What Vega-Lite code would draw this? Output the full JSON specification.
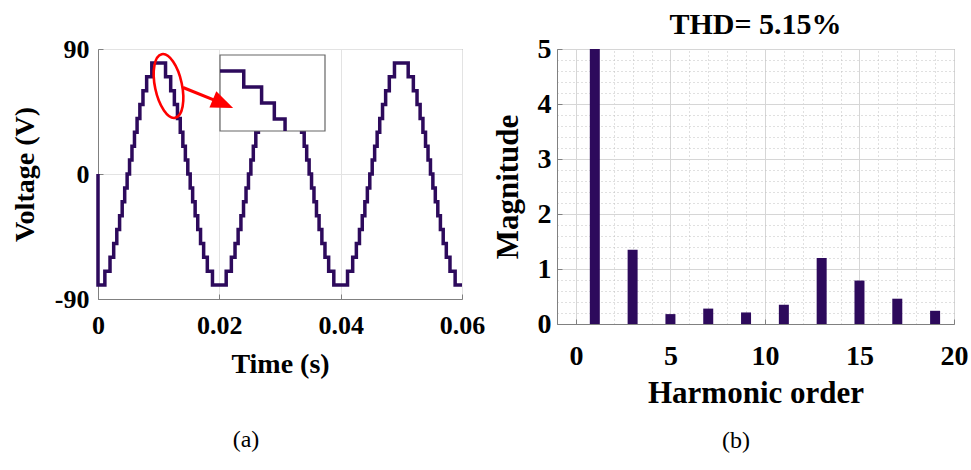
{
  "$schema": "https://vega.github.io/schema/vega-lite/v6.json",
  "background": "white",
  "padding": {"left": 10, "top": 9, "right": 0, "bottom": 0},
  "bounds": "flush",
  "spacing": 95,
  "config": {
    "view": {"stroke": "#808080", "strokeWidth": 1},
    "font": "Liberation Serif",
    "axis": {
      "labelFont": "Liberation Serif", "labelFontWeight": "bold", "labelColor": "black",
      "titleFont": "Liberation Serif", "titleFontWeight": "bold", "titleColor": "black",
      "domainColor": "#808080", "tickColor": "#808080", "labelFlush": false, "labelOverlap": false, "labelBound": false
    }
  },
  "hconcat": [
    {
      "width": 364, "height": 250,
      "resolve": {"scale": {"x": "independent", "y": "independent"}},
      "layer": [
        {
          "data": {"values": [
            {"t":0,"v":0},{"t":0,"v":-80},{"t":0.001131,"v":-70},{"t":0.001981,"v":-60},{"t":0.002587,"v":-50},{"t":0.003098,"v":-40},{"t":0.003559,"v":-30},{"t":0.003988,"v":-20},{"t":0.0044,"v":-10},{"t":0.004801,"v":0},{"t":0.005199,"v":10},{"t":0.0056,"v":20},{"t":0.006012,"v":30},{"t":0.006441,"v":40},{"t":0.006902,"v":50},{"t":0.007413,"v":60},{"t":0.008019,"v":70},{"t":0.008869,"v":80},
            {"t":0.011131,"v":70},{"t":0.011981,"v":60},{"t":0.012587,"v":50},{"t":0.013098,"v":40},{"t":0.013559,"v":30},{"t":0.013988,"v":20},{"t":0.0144,"v":10},{"t":0.014801,"v":0},{"t":0.015199,"v":-10},{"t":0.0156,"v":-20},{"t":0.016012,"v":-30},{"t":0.016441,"v":-40},{"t":0.016902,"v":-50},{"t":0.017413,"v":-60},{"t":0.018019,"v":-70},{"t":0.018869,"v":-80},
            {"t":0.021131,"v":-70},{"t":0.021981,"v":-60},{"t":0.022587,"v":-50},{"t":0.023098,"v":-40},{"t":0.023559,"v":-30},{"t":0.023988,"v":-20},{"t":0.0244,"v":-10},{"t":0.024801,"v":0},{"t":0.025199,"v":10},{"t":0.0256,"v":20},{"t":0.026012,"v":30},{"t":0.026441,"v":40},{"t":0.026902,"v":50},{"t":0.027413,"v":60},{"t":0.028019,"v":70},{"t":0.028869,"v":80},
            {"t":0.031131,"v":70},{"t":0.031981,"v":60},{"t":0.032587,"v":50},{"t":0.033098,"v":40},{"t":0.033559,"v":30},{"t":0.033988,"v":20},{"t":0.0344,"v":10},{"t":0.034801,"v":0},{"t":0.035199,"v":-10},{"t":0.0356,"v":-20},{"t":0.036012,"v":-30},{"t":0.036441,"v":-40},{"t":0.036902,"v":-50},{"t":0.037413,"v":-60},{"t":0.038019,"v":-70},{"t":0.038869,"v":-80},
            {"t":0.041131,"v":-70},{"t":0.041981,"v":-60},{"t":0.042587,"v":-50},{"t":0.043098,"v":-40},{"t":0.043559,"v":-30},{"t":0.043988,"v":-20},{"t":0.0444,"v":-10},{"t":0.044801,"v":0},{"t":0.045199,"v":10},{"t":0.0456,"v":20},{"t":0.046012,"v":30},{"t":0.046441,"v":40},{"t":0.046902,"v":50},{"t":0.047413,"v":60},{"t":0.048019,"v":70},{"t":0.048869,"v":80},
            {"t":0.051131,"v":70},{"t":0.051981,"v":60},{"t":0.052587,"v":50},{"t":0.053098,"v":40},{"t":0.053559,"v":30},{"t":0.053988,"v":20},{"t":0.0544,"v":10},{"t":0.054801,"v":0},{"t":0.055199,"v":-10},{"t":0.0556,"v":-20},{"t":0.056012,"v":-30},{"t":0.056441,"v":-40},{"t":0.056902,"v":-50},{"t":0.057413,"v":-60},{"t":0.058019,"v":-70},{"t":0.058869,"v":-80},{"t":0.06,"v":-80}
          ]},
          "mark": {"type": "line", "interpolate": "step-after", "color": "#2d0a5c", "strokeWidth": 3.5},
          "encoding": {
            "x": {"field": "t", "type": "quantitative", "scale": {"domain": [0, 0.06], "nice": false},
              "axis": {"title": "Time (s)", "values": [0, 0.02, 0.04, 0.06], "labelExpr": "'' + datum.value", "labelOverlap": false, "grid": true, "gridColor": "#e3e3e3", "tickSize": -5, "labelPadding": 18, "labelFontSize": 26, "titleFontSize": 28, "titlePadding": 12}},
            "y": {"field": "v", "type": "quantitative", "scale": {"domain": [-90, 90], "nice": false},
              "axis": {"title": "Voltage (V)", "values": [-90, 0, 90], "labelExpr": "'' + datum.value", "labelOverlap": false, "grid": true, "gridColor": "#e3e3e3", "tickSize": -5, "labelPadding": 14, "labelFontSize": 26, "titleFontSize": 28, "titlePadding": 15}}
          }
        },
        {
          "layer": [
            {
              "data": {"values": [{}]},
              "mark": {"type": "rect", "fill": "white", "stroke": "#666666", "strokeWidth": 1.2},
              "encoding": {
                "x": {"datum": 0.01, "type": "quantitative", "scale": {"domain": [0.01, 0.015], "range": [122, 227], "nice": false}, "axis": null},
                "x2": {"datum": 0.015},
                "y": {"datum": 42.5, "type": "quantitative", "scale": {"domain": [42.5, 90], "range": [82, 6], "nice": false, "clamp": true}, "axis": null},
                "y2": {"datum": 90}
              }
            },
            {
              "data": {"values": [
                {"t":0.01,"v":80},{"t":0.011131,"v":70},{"t":0.011981,"v":60},{"t":0.012587,"v":50},{"t":0.013098,"v":40}
              ]},
              "mark": {"type": "line", "interpolate": "step-after", "color": "#2d0a5c", "strokeWidth": 3.5},
              "encoding": {
                "x": {"field": "t", "type": "quantitative", "scale": {"domain": [0.01, 0.015], "range": [122, 227], "nice": false}, "axis": null},
                "y": {"field": "v", "type": "quantitative", "scale": {"domain": [42.5, 90], "range": [82, 6], "nice": false, "clamp": true}, "axis": null}
              }
            }
          ]
        },
        {
          "data": {"values": [{"label": "(a)"}]},
          "layer": [
            {
              "mark": {"type": "point", "shape": "M0,-1A0.415,1 0 1,1 0,1A0.415,1 0 1,1 0,-1Z", "size": 4225, "angle": -12, "filled": false, "color": "#ff0000", "strokeWidth": 2.6, "opacity": 1},
              "encoding": {
                "x": {"datum": 0.011621, "type": "quantitative", "scale": {"domain": [0, 0.06], "nice": false}, "axis": null},
                "y": {"datum": 63.36, "type": "quantitative", "scale": {"domain": [-90, 90], "nice": false}, "axis": null}
              }
            },
            {
              "mark": {"type": "rule", "color": "#ff0000", "strokeWidth": 3},
              "encoding": {
                "x": {"datum": 0.014011, "type": "quantitative", "scale": {"domain": [0, 0.06], "nice": false}, "axis": null},
                "x2": {"datum": 0.020604},
                "y": {"datum": 62.28, "type": "quantitative", "scale": {"domain": [-90, 90], "nice": false}, "axis": null},
                "y2": {"datum": 50.62}
              }
            },
            {
              "mark": {"type": "point", "shape": "M1,0L-1,-0.8L-1,0.8Z", "size": 484, "angle": 23, "filled": true, "color": "#ff0000", "opacity": 1},
              "encoding": {
                "x": {"datum": 0.020604, "type": "quantitative", "scale": {"domain": [0, 0.06], "nice": false}, "axis": null},
                "y": {"datum": 50.62, "type": "quantitative", "scale": {"domain": [-90, 90], "nice": false}, "axis": null}
              }
            },
            {
              "mark": {"type": "text", "font": "Liberation Serif", "fontSize": 24, "color": "black", "baseline": "middle", "align": "center"},
              "encoding": {
                "text": {"field": "label"},
                "x": {"datum": 0.0244, "type": "quantitative", "scale": {"domain": [0, 0.06], "nice": false}, "axis": null},
                "y": {"datum": -191.5, "type": "quantitative", "scale": {"domain": [-90, 90], "nice": false}, "axis": null}
              }
            }
          ]
        }
      ]
    },
    {
      "width": 397, "height": 275,
      "title": {"text": "THD= 5.15%", "font": "Liberation Serif", "fontSize": 30, "fontWeight": "bold", "color": "black", "offset": -5},
      "resolve": {"axis": {"x": "independent", "y": "independent"}},
      "layer": [
        {
          "data": {"values": [
            {"h":1,"m":100},{"h":3,"m":1.35},{"h":5,"m":0.18},{"h":7,"m":0.28},{"h":9,"m":0.21},{"h":11,"m":0.35},{"h":13,"m":1.2},{"h":15,"m":0.79},{"h":17,"m":0.46},{"h":19,"m":0.24}
          ]},
          "mark": {"type": "bar", "width": 10, "color": "#2d0a5c", "clip": true},
          "encoding": {
            "x": {"field": "h", "type": "quantitative", "scale": {"domain": [-1, 20], "nice": false, "padding": 0},
              "axis": {"orient": "bottom", "title": "Harmonic order", "values": [0, 5, 10, 15, 20], "labelExpr": "'' + datum.value", "labelOverlap": false,
                "grid": true, "gridColor": "#d6d6d6", "tickSize": -5, "labelPadding": 23, "labelFontSize": 28, "titleFontSize": 31, "titlePadding": 8}},
            "y": {"field": "m", "type": "quantitative", "scale": {"domain": [0, 5], "nice": false, "padding": 0},
              "axis": {"orient": "left", "title": "Magnitude", "values": [0, 1, 2, 3, 4, 5], "labelExpr": "'' + datum.value", "labelOverlap": false,
                "grid": true, "gridColor": "#d6d6d6", "tickSize": -5, "labelPadding": 11, "labelFontSize": 28, "titleFontSize": 31, "titlePadding": 13}}
          }
        },
        {
          "data": {"values": [{"label": "(b)"}]},
          "mark": {"type": "text", "font": "Liberation Serif", "fontSize": 24, "color": "black", "baseline": "middle", "align": "center"},
          "encoding": {
            "text": {"field": "label"},
            "x": {"datum": 8.47, "type": "quantitative",
              "axis": {"orient": "top", "title": null, "values": [1,2,3,4,6,7,8,9,11,12,13,14,16,17,18,19], "labels": false, "ticks": false, "domain": false, "minExtent": 0, "maxExtent": 0,
                "grid": true, "gridColor": "#c0c0c0", "gridDash": [1, 3]}},
            "y": {"datum": -2.13, "type": "quantitative",
              "axis": {"orient": "right", "title": null, "values": [0.2,0.4,0.6,0.8,1.2,1.4,1.6,1.8,2.2,2.4,2.6,2.8,3.2,3.4,3.6,3.8,4.2,4.4,4.6,4.8], "labels": false, "ticks": false, "domain": false, "minExtent": 0, "maxExtent": 0,
                "grid": true, "gridColor": "#c0c0c0", "gridDash": [1, 3]}}
          }
        }
      ]
    }
  ]
}
